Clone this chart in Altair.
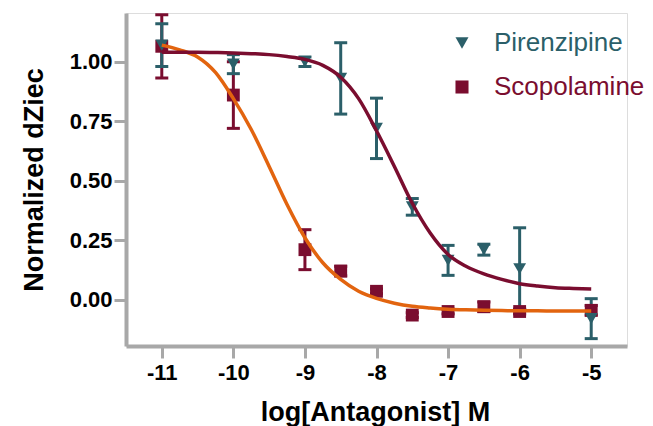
import altair as alt
import pandas as pd

# ---- data ----
series_names = ["Pirenzipine", "Scopolamine"]
x_vals = [-11, -10, -9, -8.5, -8, -7.5, -7, -6.5, -6, -5]
pir_y = [1.07, 0.99, 1.00, 0.93, 0.72, 0.39, 0.165, 0.21, 0.13, -0.08]
pir_err = [0.09, 0.04, 0.02, 0.15, 0.127, 0.035, 0.063, 0.023, 0.172, 0.084]
sco_y = [1.065, 0.86, 0.21, 0.12, 0.035, -0.065, -0.05, -0.03, -0.05, -0.045]
sco_err = [0.133, 0.14, 0.084, 0.02, 0.01, 0.01, 0.01, 0.02, 0.01, 0.02]

fit_x = [-11, -10.75, -10.5, -10.25, -10, -9.75, -9.5, -9.25, -9, -8.75, -8.5, -8.25,
         -8, -7.75, -7.5, -7.25, -7, -6.75, -6.5, -6.25, -6, -5.75, -5.5, -5.25, -5]
pir_fit = [1.04, 1.04, 1.04, 1.039, 1.037, 1.034, 1.03, 1.022, 1.01, 0.985, 0.935, 0.845,
           0.71, 0.56, 0.405, 0.28, 0.19, 0.14, 0.108, 0.085, 0.067, 0.057, 0.05, 0.047, 0.045]
sco_fit = [1.07, 1.05, 1.02, 0.955, 0.845, 0.715, 0.56, 0.40, 0.26, 0.155, 0.085, 0.035,
           0.005, -0.015, -0.028, -0.035, -0.04, -0.043, -0.045, -0.046, -0.047, -0.047, -0.048, -0.048, -0.048]

x_ticks = [-11, -10, -9, -8, -7, -6, -5]
y_ticks = [0, 0.25, 0.5, 0.75, 1.0]

# ---- styles ----
TEAL = "#2b5f69"
DRED = "#7a0d2f"
ORANGE = "#e2640f"
GRAY = "#a8a8a8"
FONT = "Liberation Sans"

rows = []
for name, ys, es in [("Scopolamine", sco_y, sco_err), ("Pirenzipine", pir_y, pir_err)]:
    for x, y, e in zip(x_vals, ys, es):
        rows.append({"series": name, "x": x, "y": y, "lo": y - e, "hi": y + e})
pts = pd.DataFrame(rows)

fit_rows = []
for name, ys in [("Scopolamine", sco_fit), ("Pirenzipine", pir_fit)]:
    for x, y in zip(fit_x, ys):
        fit_rows.append({"series": name, "x": x, "y": y})
fits = pd.DataFrame(fit_rows)

xscale = alt.Scale(domain=[-11.5, -4.5], nice=False, zero=False)
yscale = alt.Scale(domain=[-0.195, 1.205], nice=False, zero=False)

xaxis = alt.Axis(values=x_ticks, labelExpr="'' + datum.value", title="log[Antagonist] M",
                 labelFont=FONT, labelFontSize=22, labelFontWeight="bold", labelColor="black",
                 labelPadding=4, tickSize=12, tickWidth=3, tickColor=GRAY,
                 domainColor=GRAY, domainWidth=4, grid=False,
                 titleFont=FONT, titleFontSize=27, titleFontWeight="bold", titleColor="black",
                 titleX=249, titleY=74, titleBaseline="alphabetic")
yaxis = alt.Axis(values=y_ticks, format=".2f", title="Normalized dZiec",
                 labelFont=FONT, labelFontSize=22, labelFontWeight="bold", labelColor="black",
                 labelPadding=2, tickSize=12, tickWidth=3, tickColor=GRAY,
                 domainColor=GRAY, domainWidth=4, grid=False,
                 titleFont=FONT, titleFontSize=27, titleFontWeight="bold", titleColor="black",
                 titleX=-84, titleY=166.5, titleBaseline="alphabetic", titleAngle=270)

legend = alt.Legend(title=None, orient="none", legendX=323, legendY=17,
                    labelFont=FONT, labelFontSize=26,
                    labelColor={"expr": "datum.value == 'Pirenzipine' ? '%s' : '%s'" % (TEAL, DRED)},
                    symbolSize=170, symbolStrokeWidth=0, symbolOpacity=1,
                    labelOffset=19, rowPadding=18, padding=0)

color = alt.Color("series:N", scale=alt.Scale(domain=series_names, range=[TEAL, DRED]), legend=legend)
shape = alt.Shape("series:N", scale=alt.Scale(domain=series_names, range=["triangle-down", "square"]), legend=legend)

base = alt.Chart(pts)
bars = base.mark_rule(strokeWidth=3).encode(
    x=alt.X("x:Q", scale=xscale, axis=xaxis),
    y=alt.Y("lo:Q", scale=yscale, axis=yaxis),
    y2="hi:Q",
    color=color,
)
cap_lo = base.mark_tick(orient="horizontal", size=13, thickness=3, opacity=1).encode(
    x="x:Q", y="lo:Q", color=color)
cap_hi = base.mark_tick(orient="horizontal", size=13, thickness=3, opacity=1).encode(
    x="x:Q", y="hi:Q", color=color)
points = base.mark_point(filled=True, size=165, opacity=1).encode(
    x="x:Q", y="y:Q", color=color, shape=shape)
lines = alt.Chart(fits).mark_line(strokeWidth=3.5, interpolate="monotone").encode(
    x="x:Q", y="y:Q", detail="series:N",
    stroke=alt.Stroke("series:N", scale=alt.Scale(domain=series_names, range=[DRED, ORANGE]), legend=None),
)

chart = alt.layer(bars, cap_lo, cap_hi, points, lines).properties(
    width=501, height=333,
    autosize=alt.AutoSizeParams(type="none"),
    padding={"left": 126, "top": 13, "right": 26, "bottom": 80},
).configure_view(strokeWidth=0).configure(background="white")

chart.save("out.html", embed_options={"renderer": "svg", "actions": False})
